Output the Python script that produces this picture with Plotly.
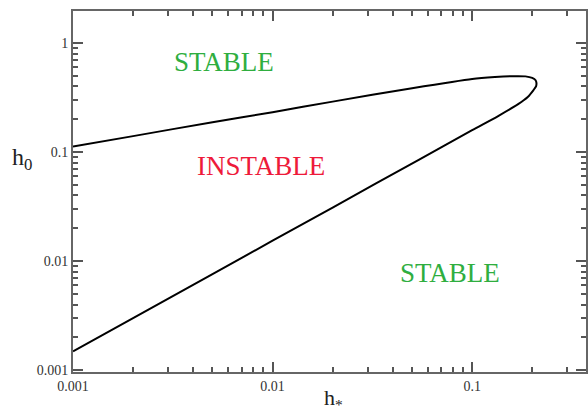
import numpy as np
import plotly.graph_objects as go

# Fold curve: upper branch then lower branch
h_star = [0.001, 0.002, 0.005, 0.01, 0.02, 0.05, 0.1, 0.13, 0.16, 0.185, 0.2, 0.208, 0.21,
          0.209, 0.203, 0.19, 0.17, 0.135, 0.1, 0.054, 0.02, 0.01, 0.005, 0.002, 0.001]
h_0 = [0.1125, 0.140, 0.188, 0.232, 0.290, 0.385, 0.468, 0.487, 0.496, 0.494, 0.478, 0.455, 0.43,
       0.40, 0.37, 0.32, 0.275, 0.214, 0.159, 0.085, 0.031, 0.0154, 0.0076, 0.0030, 0.00149]

x_major = [0.001, 0.01, 0.1]
x_major_text = ["0.001", "0.01", "0.1"]
y_major = [0.001, 0.01, 0.1, 1]
y_major_text = ["0.001", "0.01", "0.1", "1"]
minor_vals = [m * 10.0 ** e for e in range(-4, 1) for m in range(2, 10)]

regions = ["STABLE", "INSTABLE", "STABLE"]
region_x = [0.00573, 0.0087, 0.0775]
region_y = [0.674, 0.075, 0.00785]
region_col = ["#2fae3f", "#ee1a3a", "#2fae3f"]

W, H = 588, 415
fig = go.Figure()
fig.add_trace(go.Scatter(x=h_star, y=h_0, mode="lines",
                         line=dict(color="black", width=2, shape="spline", smoothing=0.6),
                         showlegend=False, hoverinfo="skip"))

for t, xx, yy, c in zip(regions, region_x, region_y, region_col):
    fig.add_annotation(x=np.log10(xx), y=np.log10(yy), text=t, showarrow=False,
                       font=dict(family="Liberation Serif", size=27, color=c))

axis_common = dict(showline=True, linecolor="#666", linewidth=2, mirror="allticks",
                   ticks="inside", ticklen=10, tickwidth=1.5, tickcolor="#555",
                   showgrid=False, zeroline=False,
                   tickfont=dict(family="Liberation Serif", size=14, color="#333"))

fig.update_xaxes(type="log", range=[-3, np.log10(0.372)], tickmode="array", tickvals=x_major,
                 ticktext=x_major_text,
                 minor=dict(tickmode="array", tickvals=minor_vals, ticks="inside", ticklen=5,
                            tickcolor="#555", tickwidth=1.5, showgrid=False),
                 **axis_common)
fig.update_yaxes(type="log", range=[-3.016, 0.293], tickmode="array", tickvals=y_major,
                 ticktext=y_major_text,
                 minor=dict(tickmode="array", tickvals=minor_vals, ticks="inside", ticklen=5,
                            tickcolor="#555", tickwidth=1.5, showgrid=False),
                 **axis_common)

fig.add_annotation(xref="paper", yref="paper", x=-0.099, y=0.589, text="h<sub>0</sub>", showarrow=False,
                   xanchor="center", yanchor="middle",
                   font=dict(family="Liberation Serif", size=24, color="#222"))
fig.add_annotation(xref="paper", yref="paper", x=0.507, y=-0.076, text="h<sub>*</sub>", showarrow=False,
                   xanchor="center", yanchor="middle",
                   font=dict(family="Liberation Serif", size=22, color="#222"))

fig.update_layout(width=W, height=H, margin=dict(l=73, r=0, t=11, b=43),
                  plot_bgcolor="white", paper_bgcolor="white")
fig.write_html("out.html", config={"displayModeBar": False},
               post_script="document.body.style.margin='0';")
